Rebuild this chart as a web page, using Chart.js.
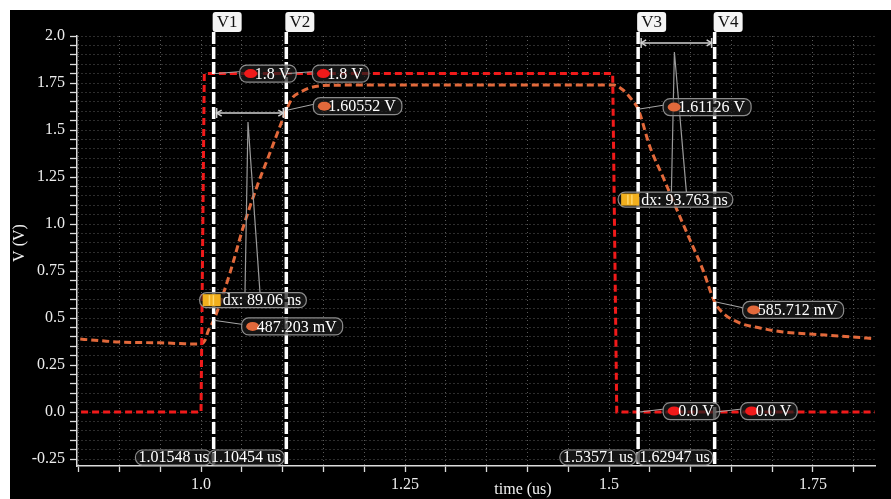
<!DOCTYPE html>
<html lang="en">
<head>
<meta charset="UTF-8">
<title>Transient with cursors V1-V4</title>
<script src="https://cdn.jsdelivr.net/npm/chart.js"></script>
<style>
    body { margin: 0; background: #fff; }
    #wrap {
        position: absolute;
        left: 10px;
        top: 10px;
        width: 881px;
        height: 489px;
        background: #000;
    }
</style>
</head>
<body>
<div id="wrap"><canvas id="waveChart"></canvas></div>
<script>
// input pulse (red)
const inTime = [0.853, 1.0, 1.004, 1.5045, 1.5095, 1.826];
const inVolt = [0, 0, 1.8, 1.8, 0, 0];

// output node (orange)
const outTime = [0.852, 0.876, 0.9, 0.95, 0.975, 0.99, 0.999, 1.005, 1.0086, 1.01548, 1.0355, 1.0515,
    1.0686, 1.0846, 1.0968, 1.10454, 1.1127, 1.1213, 1.1336, 1.16, 1.25, 1.4, 1.5049, 1.5172, 1.5282,
    1.53571, 1.5502, 1.5662, 1.5833, 1.5993, 1.6152, 1.62947, 1.6397, 1.6605, 1.685, 1.7132, 1.7463,
    1.7831, 1.8255];
const outVolt = [0.388, 0.38, 0.372, 0.368, 0.364, 0.362, 0.362, 0.383, 0.43, 0.487203, 0.74, 0.98,
    1.2, 1.38, 1.52, 1.60552, 1.675, 1.70, 1.725, 1.738, 1.74, 1.74, 1.74, 1.713, 1.66,
    1.61126, 1.41, 1.25, 1.075, 0.915, 0.755, 0.585712, 0.527, 0.473, 0.447, 0.426, 0.415,
    0.404, 0.39];

const xTickValues = [1.0, 1.25, 1.5, 1.75];
const xTickLabels = ['1.0', '1.25', '1.5', '1.75'];
const yTickValues = [-0.25, 0, 0.25, 0.5, 0.75, 1.0, 1.25, 1.5, 1.75, 2.0];
const yTickLabels = ['-0.25', '0.0', '0.25', '0.5', '0.75', '1.0', '1.25', '1.5', '1.75', '2.0'];

// cursors
const cursorNames = ['V1', 'V2', 'V3', 'V4'];
const cursorTimes = [1.01548, 1.10454, 1.53571, 1.62947];
const cursorTimeLabels = ['1.01548 us', '1.10454 us', '1.53571 us', '1.62947 us'];

// cursor / trace readouts (series 0 = red, 1 = orange)
const markerCursor = [0, 1, 1, 0, 2, 3, 2, 3];
const markerSeries = [0, 0, 1, 1, 1, 1, 0, 0];
const markerValues = [1.8, 1.8, 1.60552, 0.487203, 1.61126, 0.585712, 0.0, 0.0];
const markerLabels = ['1.8 V', '1.8 V', '1.60552 V', '487.203 mV', '1.61126 V', '585.712 mV', '0.0 V', '0.0 V'];

// delta measurements between cursor pairs
const dxFrom = [0, 2];
const dxTo = [1, 3];
const dxLabels = ['dx: 89.06 ns', 'dx: 93.763 ns'];

const RED = '#f01a1a';
const ORANGE = '#e2693b';
const FONT = '16px "Liberation Serif"';

Chart.defaults.font.family = '"Liberation Serif", "Times New Roman", serif';
Chart.defaults.font.size = 16;

function stepTicks(min, max, step) {
    const out = [];
    for (let k = Math.ceil(min / step - 1e-9); k * step <= max + 1e-9; k++) {
        out.push({ value: Math.round(k * step * 1000) / 1000 });
    }
    return out;
}

function labelFor(v, vals, labels) {
    const i = vals.findIndex(t => Math.abs(t - v) < 1e-6);
    return i < 0 ? '' : labels[i];
}

function rrect(ctx, x, y, w, h, r) {
    ctx.beginPath();
    ctx.moveTo(x + r, y);
    ctx.arcTo(x + w, y, x + w, y + h, r);
    ctx.arcTo(x + w, y + h, x, y + h, r);
    ctx.arcTo(x, y + h, x, y, r);
    ctx.arcTo(x, y, x + w, y, r);
    ctx.closePath();
}

function darkBox(ctx, x, y, w, h) {
    rrect(ctx, x, y, w, h, 7);
    ctx.fillStyle = 'rgba(28,28,28,0.72)';
    ctx.fill();
    ctx.strokeStyle = '#8c8c8c';
    ctx.lineWidth = 1.2;
    ctx.stroke();
}

// label placement relative to each readout point (pixels)
const labelOffsets = [[26, 0], [26, 0], [27, -4], [28, 6], [25, -2], [28, 8], [25, -1], [26, -1]];
const dxLineLevel = [1.59, 1.963];
const dxBoxLevel = [0.595, 1.13];
const dxBoxShift = [-14, -20];

const overlay = {
    id: 'overlay',
    afterDatasetsDraw(chart) {
        const { ctx, chartArea: a, scales: { x, y } } = chart;
        const cx = cursorTimes.map(t => x.getPixelForValue(t));
        ctx.save();
        ctx.font = FONT;

        // cursor lines
        ctx.strokeStyle = '#fff';
        ctx.lineWidth = 3.5;
        ctx.setLineDash([12, 3]);
        cx.forEach(px => {
            ctx.beginPath();
            ctx.moveTo(px, 22);
            ctx.lineTo(px, a.bottom);
            ctx.stroke();
        });
        ctx.setLineDash([]);

        // cursor name tags
        cx.forEach((px, i) => {
            rrect(ctx, px - 1, 2, 29, 20, 3);
            ctx.fillStyle = '#f4f4f4';
            ctx.fill();
            ctx.fillStyle = '#111';
            ctx.textAlign = 'center';
            ctx.textBaseline = 'middle';
            ctx.font = '17px "Liberation Serif"';
            ctx.fillText(cursorNames[i], px + 13.5, 13);
        });
        ctx.font = FONT;

        // dx arrows, spikes and boxes
        dxFrom.forEach((f, i) => {
            const x1 = cx[f], x2 = cx[dxTo[i]];
            const ly = y.getPixelForValue(dxLineLevel[i]);
            ctx.strokeStyle = '#d0d0d0';
            ctx.lineWidth = 1.5;
            ctx.beginPath();
            ctx.moveTo(x1 + 2, ly); ctx.lineTo(x2 - 2, ly);
            ctx.moveTo(x1 + 3, ly - 5); ctx.lineTo(x1 + 3, ly + 5);
            ctx.moveTo(x2 - 3, ly - 5); ctx.lineTo(x2 - 3, ly + 5);
            ctx.stroke();
            ctx.beginPath();
            ctx.moveTo(x1 + 3, ly); ctx.lineTo(x1 + 8, ly - 3);
            ctx.moveTo(x1 + 3, ly); ctx.lineTo(x1 + 8, ly + 3);
            ctx.moveTo(x2 - 3, ly); ctx.lineTo(x2 - 8, ly - 3);
            ctx.moveTo(x2 - 3, ly); ctx.lineTo(x2 - 8, ly + 3);
            ctx.stroke();

            const by = y.getPixelForValue(dxBoxLevel[i]);
            const bx = x1 + dxBoxShift[i];
            const tw = ctx.measureText(dxLabels[i]).width;
            const bw = 24 + tw + 4, bh = 15;
            const apex = (x1 + x2) / 2 - 2;
            ctx.strokeStyle = '#9a9a9a';
            ctx.lineWidth = 1.2;
            ctx.beginPath();
            ctx.moveTo(apex - 3, by - bh / 2);
            ctx.lineTo(apex, ly + 9);
            ctx.lineTo(apex + 12, by - bh / 2);
            ctx.stroke();

            darkBox(ctx, bx, by - bh / 2, bw, bh);
            ctx.fillStyle = '#f2b01e';
            ctx.fillRect(bx + 3, by - 6, 18, 12);
            ctx.fillStyle = '#ffd76a';
            ctx.fillRect(bx + 9, by - 5, 1.5, 10);
            ctx.fillRect(bx + 13, by - 5, 1.5, 10);
            ctx.fillStyle = '#fff';
            ctx.textAlign = 'left';
            ctx.textBaseline = 'middle';
            ctx.fillText(dxLabels[i], bx + 23, by + 1);
        });

        // readouts on the traces
        markerValues.forEach((v, i) => {
            const ax = cx[markerCursor[i]];
            const ay = y.getPixelForValue(v);
            const left = ax + labelOffsets[i][0];
            const cy = ay + labelOffsets[i][1];
            const tw = ctx.measureText(markerLabels[i]).width;
            const bw = 15 + tw + 6, bh = 17;
            ctx.strokeStyle = '#a8a8a8';
            ctx.lineWidth = 1;
            ctx.beginPath();
            ctx.moveTo(ax + 1, ay);
            ctx.lineTo(left + 1, cy - 2);
            ctx.stroke();
            darkBox(ctx, left, cy - bh / 2, bw, bh);
            ctx.fillStyle = markerSeries[i] === 0 ? RED : ORANGE;
            ctx.beginPath();
            ctx.ellipse(left + 11, cy, 6.5, 4.5, 0, 0, Math.PI * 2);
            ctx.fill();
            ctx.fillStyle = '#fff';
            ctx.textAlign = 'left';
            ctx.textBaseline = 'middle';
            ctx.fillText(markerLabels[i], left + 15, cy + 1);
        });

        // cursor time readouts on the x axis
        cx.forEach((px, i) => {
            const tw = ctx.measureText(cursorTimeLabels[i]).width;
            const bw = tw + 6, bh = 15;
            const right = px - 2;
            darkBox(ctx, right - bw, a.bottom - 16, bw, bh);
            ctx.fillStyle = '#fff';
            ctx.textAlign = 'left';
            ctx.textBaseline = 'middle';
            ctx.fillText(cursorTimeLabels[i], right - bw + 3, a.bottom - 8);
        });

        ctx.restore();
    },
    afterDraw(chart) {
        const { ctx, chartArea: a } = chart;
        ctx.save();
        ctx.font = FONT;
        ctx.fillStyle = '#f0f0f0';
        ctx.textAlign = 'center';
        ctx.textBaseline = 'middle';
        ctx.fillText('time (us)', a.left + 446, a.bottom + 24);
        ctx.translate(10, (a.top + a.bottom) / 2 - 8);
        ctx.rotate(-Math.PI / 2);
        ctx.fillText('V (V)', 0, 0);
        ctx.restore();
    }
};

new Chart(document.getElementById('waveChart'), {
    type: 'line',
    data: {
        datasets: [{
            label: 'in',
            data: inTime.map((t, i) => ({ x: t, y: inVolt[i] })),
            borderColor: RED,
            borderWidth: 3,
            borderDash: [7, 4],
            pointRadius: 0,
            tension: 0
        }, {
            label: 'out',
            data: outTime.map((t, i) => ({ x: t, y: outVolt[i] })),
            borderColor: ORANGE,
            borderWidth: 3,
            borderDash: [7, 4],
            pointRadius: 0,
            cubicInterpolationMode: 'monotone'
        }]
    },
    options: {
        responsive: true,
        maintainAspectRatio: false,
        animation: false,
        layout: { padding: { top: 26, right: 16, left: 0, bottom: 0 } },
        plugins: {
            legend: { display: false },
            tooltip: { enabled: false }
        },
        scales: {
            x: {
                type: 'linear',
                min: 0.848,
                max: 1.826,
                afterBuildTicks: s => { s.ticks = stepTicks(s.min, s.max, 0.05); },
                afterFit: s => { s.height = 33; },
                ticks: {
                    autoSkip: false,
                    maxRotation: 0,
                    color: '#ececec',
                    padding: 3,
                    callback: v => labelFor(v, xTickValues, xTickLabels)
                },
                grid: { color: '#5a5a5a', lineWidth: 1, tickColor: '#dcdcdc', tickLength: 6, tickWidth: 1.3 },
                border: { color: '#dcdcdc', width: 1.5, dash: [1, 3] }
            },
            y: {
                min: -0.287,
                max: 2.0,
                afterBuildTicks: s => { s.ticks = stepTicks(s.min, s.max, 0.05); },
                afterFit: s => { s.width = 67; },
                ticks: {
                    autoSkip: false,
                    color: '#ececec',
                    padding: 5,
                    callback: v => labelFor(v, yTickValues, yTickLabels)
                },
                grid: { color: '#5a5a5a', lineWidth: 1, tickColor: '#dcdcdc', tickLength: 7, tickWidth: 1.3 },
                border: { color: '#dcdcdc', width: 1.5, dash: [1, 3] }
            }
        }
    },
    plugins: [overlay]
});
</script>
</body>
</html>
